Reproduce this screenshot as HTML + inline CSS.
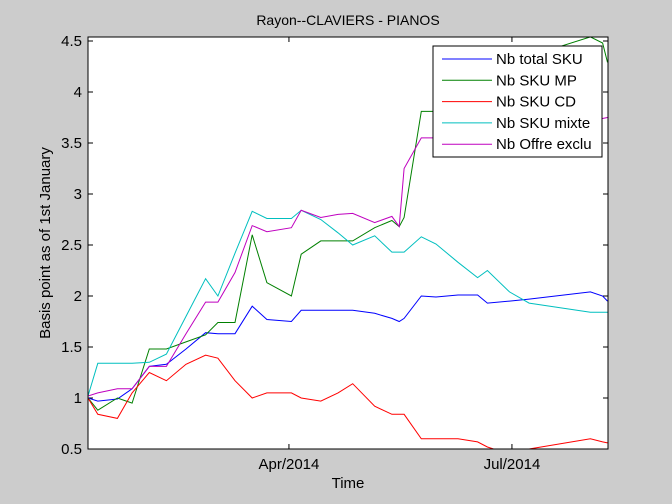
<!DOCTYPE html>
<html><head><meta charset="utf-8"><style>
html,body{margin:0;padding:0;background:#cccccc;}
svg{display:block;font-family:"Liberation Sans",sans-serif;}
</style></head><body>
<svg id="chart" width="672" height="504">
<rect x="0" y="0" width="672" height="504" fill="#cccccc"/>
<rect x="88" y="37" width="520" height="412" fill="#ffffff"/>
<defs><clipPath id="clip"><rect x="88" y="37" width="520" height="412"/></clipPath></defs>
<g id="axes"></g>
<g id="series" clip-path="url(#clip)"></g>
<rect x="88" y="37" width="520" height="412" fill="none" stroke="#000" stroke-width="1"/>
<text x="348" y="25" font-size="14" text-anchor="middle">Rayon--CLAVIERS - PIANOS</text>
<text x="348" y="488" font-size="15" text-anchor="middle">Time</text>
<text transform="translate(50,243) rotate(-90)" font-size="15" text-anchor="middle">Basis point as of 1st January</text>
<g id="legend">
<rect x="433" y="46" width="169" height="111" fill="#fff" stroke="#000"/>
</g>
</svg>
<script>
const days = [8,12,20,26,33,40,48,56,61,68,75,81,91,95,103,110,116,125,132,135,137,144,150,159,167,171,180,188,213,218,220];
const totalSku = [1.0,0.97,0.99,1.09,1.31,1.33,1.48,1.64,1.63,1.63,1.90,1.77,1.75,1.86,1.86,1.86,1.86,1.83,1.78,1.75,1.78,2.00,1.99,2.01,2.01,1.93,1.95,1.97,2.04,2.00,1.95];
const skuMp = [1.0,0.88,1.0,0.95,1.48,1.48,1.55,1.62,1.74,1.74,2.60,2.13,2.00,2.41,2.54,2.54,2.54,2.67,2.74,2.68,2.77,3.81,3.81,3.9,4.0,4.05,4.15,4.35,4.54,4.48,4.29];
const skuCd = [1.0,0.84,0.80,1.05,1.25,1.17,1.33,1.42,1.39,1.17,1.0,1.05,1.05,1.0,0.97,1.05,1.14,0.92,0.84,0.84,0.84,0.60,0.60,0.60,0.57,0.52,0.45,0.50,0.60,0.57,0.56];
const skuMixte = [1.02,1.34,1.34,1.34,1.35,1.43,1.80,2.17,2.0,2.42,2.83,2.76,2.76,2.84,2.75,2.62,2.50,2.59,2.43,2.43,2.43,2.58,2.51,2.33,2.18,2.25,2.04,1.93,1.84,1.84,1.84];
const offreExclu = [1.02,1.05,1.09,1.09,1.31,1.31,1.63,1.94,1.94,2.23,2.69,2.63,2.67,2.84,2.77,2.80,2.81,2.72,2.78,2.68,3.25,3.55,3.55,3.6,3.62,3.64,3.66,3.68,3.73,3.74,3.75];
const seriesNames = ["Nb total SKU","Nb SKU MP","Nb SKU CD","Nb SKU mixte","Nb Offre exclu"];
const seriesColors = ["#0000ff","#008000","#ff0000","#00bfbf","#bf00bf"];
const yTicks = [0.5,1,1.5,2,2.5,3,3.5,4,4.5];
const yTickLabels = ["0.5","1","1.5","2","2.5","3","3.5","4","4.5"];
const xTicks = [90,181];
const xTickLabels = ["Apr/2014","Jul/2014"];

const NS="http://www.w3.org/2000/svg";
const X0=88,X1=608,Y0=449,D0=8,D1=220.2;
function xs(d){return X0+(d-D0)*(X1-X0)/(D1-D0);}
function ys(v){return Y0-(v-0.5)*102;}
function mk(tag,attrs,parent){const e=document.createElementNS(NS,tag);for(const k in attrs)e.setAttribute(k,attrs[k]);parent.appendChild(e);return e;}
const axes=document.getElementById('axes');
yTicks.forEach((t,i)=>{
  const y=ys(t);
  const a=mk('line',{x1:88,x2:93,y1:y,y2:y,stroke:'#000'},axes);
  
  
  const b=mk('line',{x1:603,x2:608,y1:y,y2:y,stroke:'#000'},axes);
  
  
  const tx=mk('text',{x:82,y:y+5,'font-size':15,'text-anchor':'end'},axes);
  tx.textContent=yTickLabels[i];
  
  
});
xTicks.forEach((t,i)=>{
  const x=xs(t);
  const a=mk('line',{x1:x,x2:x,y1:449,y2:444,stroke:'#000'},axes);
  
  
  const b=mk('line',{x1:x,x2:x,y1:37,y2:42,stroke:'#000'},axes);
  
  
  const tx=mk('text',{x:x,y:469,'font-size':15,'text-anchor':'middle'},axes);
  tx.textContent=xTickLabels[i];
  
  
});
const all=[totalSku,skuMp,skuCd,skuMixte,offreExclu];
const sg=document.getElementById('series');
const lg=document.getElementById('legend');
all.forEach((vals,k)=>{
  const pts=days.map((d,i)=>xs(d).toFixed(1)+','+ys(vals[i]).toFixed(1)).join(' ');
  const p=mk('polyline',{points:pts,fill:'none',stroke:seriesColors[k],'stroke-width':1},sg);
  
  
  const ly=59+k*21.3;
  const l=mk('line',{x1:442,x2:492,y1:ly,y2:ly,stroke:seriesColors[k]},lg);
  
  
  const t=mk('text',{x:496,y:ly+5,'font-size':15},lg);
  t.textContent=seriesNames[k];
  
  
});
</script>
</body></html>
